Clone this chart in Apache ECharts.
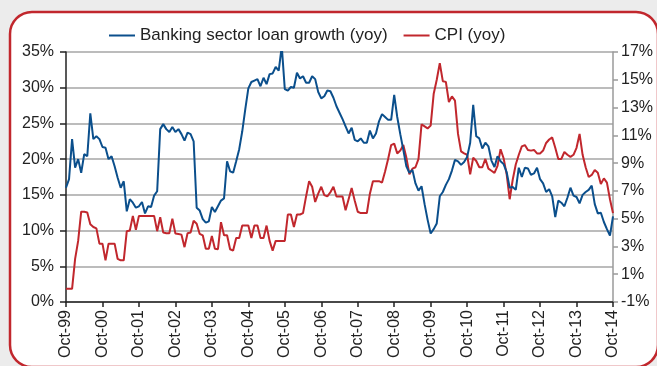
<!DOCTYPE html>
<html><head><meta charset="utf-8">
<script src="https://cdn.jsdelivr.net/npm/echarts@6/dist/echarts.min.js"></script>
<style>html,body{margin:0;padding:0;background:#ececec;}#c{width:657px;height:366px;}</style>
</head><body><div id="c"></div>
<script>
// Monthly data, Oct-99 .. Oct-14
const startYear = 1999;
const startMonth = 9; // October (0-based)
const monthNames = ['Jan','Feb','Mar','Apr','May','Jun','Jul','Aug','Sep','Oct','Nov','Dec'];

const loanGrowth = [
16.0,17.2,22.8,18.8,20.0,18.1,20.7,20.4,26.4,22.8,23.2,22.8,
21.7,21.6,20.0,20.4,19.0,17.4,16.0,16.9,12.7,14.4,13.9,13.2,
13.4,14.0,12.4,13.4,13.3,14.9,15.5,24.2,24.9,24.2,23.8,24.5,
23.8,24.2,23.5,22.6,23.7,23.5,22.5,13.2,12.8,11.6,11.1,11.3,
13.3,12.6,13.4,14.2,14.5,19.7,18.3,18.1,19.7,21.4,23.9,27.0,
29.9,30.8,31.0,31.2,30.2,31.4,30.5,31.9,32.0,32.9,32.4,35.8,
29.8,29.6,30.1,30.0,32.1,31.3,31.6,30.7,30.7,31.6,31.2,29.4,
28.5,28.8,29.6,29.5,28.6,27.4,26.5,25.6,24.6,23.6,24.4,22.7,
22.5,22.9,22.3,22.3,24.0,22.9,23.6,25.3,26.3,25.9,25.5,25.5,
29.0,25.9,23.5,21.3,19.0,18.1,18.5,16.6,15.6,16.2,13.7,11.5,
9.6,10.2,11.0,14.8,15.4,16.4,17.2,18.4,19.9,19.7,19.2,19.6,
20.3,22.3,27.6,23.2,22.9,21.5,22.3,21.8,19.8,18.9,20.4,19.7,
19.3,18.2,16.0,16.1,15.7,18.8,17.5,18.8,18.7,17.8,18.0,18.8,
17.2,16.6,15.4,15.8,14.8,11.9,14.2,13.9,13.4,14.6,16.0,14.9,
14.7,13.8,15.0,15.4,15.7,16.3,13.7,12.4,12.5,11.2,10.2,9.3,
12.0
];

const cpi = [
-0.05,-0.05,-0.05,2.1,3.4,5.5,5.5,5.45,4.6,4.4,4.3,3.2,
3.2,2.0,3.2,3.2,3.2,2.1,2.0,2.0,4.1,4.15,5.2,4.2,
5.2,5.2,5.2,5.2,5.2,5.2,4.1,5.1,4.0,3.95,3.95,5.0,
3.93,3.9,3.85,2.95,3.95,4.0,4.85,4.64,3.9,3.8,2.83,2.83,
3.75,2.83,2.8,4.75,3.8,3.8,2.8,2.7,3.6,3.6,4.5,4.5,
4.5,3.6,4.5,4.5,3.6,3.6,4.5,3.4,2.7,3.4,3.4,3.4,
3.4,5.3,5.3,4.4,5.3,5.3,5.4,6.6,7.7,7.3,6.2,6.8,
7.3,6.7,6.6,6.9,7.3,6.6,6.6,6.6,5.6,6.4,7.2,6.3,
5.5,5.4,5.4,5.4,6.8,7.7,7.7,7.7,7.6,8.4,9.3,10.3,
10.4,9.7,9.9,10.3,9.4,8.2,8.6,8.7,9.3,11.8,11.65,11.5,
11.7,14.0,15.0,16.2,14.9,14.85,13.4,13.8,13.5,11.1,9.85,9.7,
9.6,8.2,9.4,9.15,8.7,8.7,9.3,8.6,8.45,8.3,8.8,10.0,
9.35,8.2,6.4,7.8,8.9,9.6,10.2,10.3,9.95,9.9,9.95,9.7,
9.7,9.9,10.45,10.7,10.85,10.1,9.3,9.3,9.8,9.6,9.45,9.6,
10.1,11.1,9.6,8.7,8.0,8.15,8.5,8.3,7.5,7.9,7.6,6.4,
5.4
];

const leftMin = 0, leftMax = 35, leftStep = 5;
const rightMin = -1, rightMax = 17;
const rightTickValues = [-1,1,3,5,7,9,11,13,15,17];
const seriesNames = ['Banking sector loan growth (yoy)', 'CPI (yoy)'];

const categories = loanGrowth.map((_, i) => {
  const m = (startMonth + i) % 12;
  const y = startYear + Math.floor((startMonth + i) / 12);
  return monthNames[m] + '-' + String(y % 100).padStart(2, '0');
});

const FONT = "'Liberation Sans', Arial, sans-serif";
const BLUE = '#0b4f8c';
const RED = '#c1272d';

const chart = echarts.init(document.getElementById('c'), null, {renderer: 'canvas'});
chart.setOption({
  animation: false,
  backgroundColor: 'transparent',
  graphic: [{
    type: 'rect', z: -100, silent: true,
    shape: {x: 10, y: 12, width: 648, height: 355, r: 22},
    style: {fill: '#ffffff', stroke: RED, lineWidth: 2.5}
  }],
  legend: {
    left: 104, top: 22,
    itemWidth: 26, itemHeight: 2, itemGap: 16,
    icon: 'rect',
    textStyle: {fontFamily: FONT, fontSize: 17, color: '#222'},
    data: seriesNames
  },
  grid: {left: 66, right: 44, top: 52, bottom: 64},
  xAxis: {
    type: 'category', data: categories, boundaryGap: false,
    axisLine: {lineStyle: {color: '#222', width: 1.5}},
    axisTick: {interval: (i) => i % 12 === 0, length: 5, lineStyle: {color: '#222', width: 1.5}},
    axisLabel: {interval: (i) => i % 12 === 0, rotate: 90, fontFamily: FONT, fontSize: 16, color: '#222', margin: 8},
    splitLine: {show: false}
  },
  yAxis: [{
    type: 'value', min: leftMin, max: leftMax, interval: leftStep, position: 'left',
    axisLine: {show: true, lineStyle: {color: '#222', width: 1.5}},
    axisTick: {show: true, length: 6, lineStyle: {color: '#222', width: 1.5}},
    axisLabel: {formatter: '{value}%', fontFamily: FONT, fontSize: 16, color: '#222', margin: 12},
    splitLine: {show: true, lineStyle: {color: '#a6a6a6', width: 1.5}}
  }, {
    type: 'value', min: rightMin, max: rightMax, interval: 2, position: 'right',
    axisLine: {show: true, lineStyle: {color: '#9a9a9a', width: 1.5}},
    axisTick: {show: true, length: 5, customValues: rightTickValues, lineStyle: {color: '#9a9a9a', width: 1.5}},
    axisLabel: {customValues: rightTickValues, formatter: '{value}%', fontFamily: FONT, fontSize: 16, color: '#222', margin: 8},
    splitLine: {show: false}
  }],
  series: [{
    name: seriesNames[0], type: 'line', yAxisIndex: 0, data: loanGrowth,
    symbol: 'none', color: BLUE, lineStyle: {width: 2, color: BLUE}, z: 3
  }, {
    name: seriesNames[1], type: 'line', yAxisIndex: 1, data: cpi,
    symbol: 'none', color: RED, lineStyle: {width: 2, color: RED}, z: 2
  }]
});
</script></body></html>
